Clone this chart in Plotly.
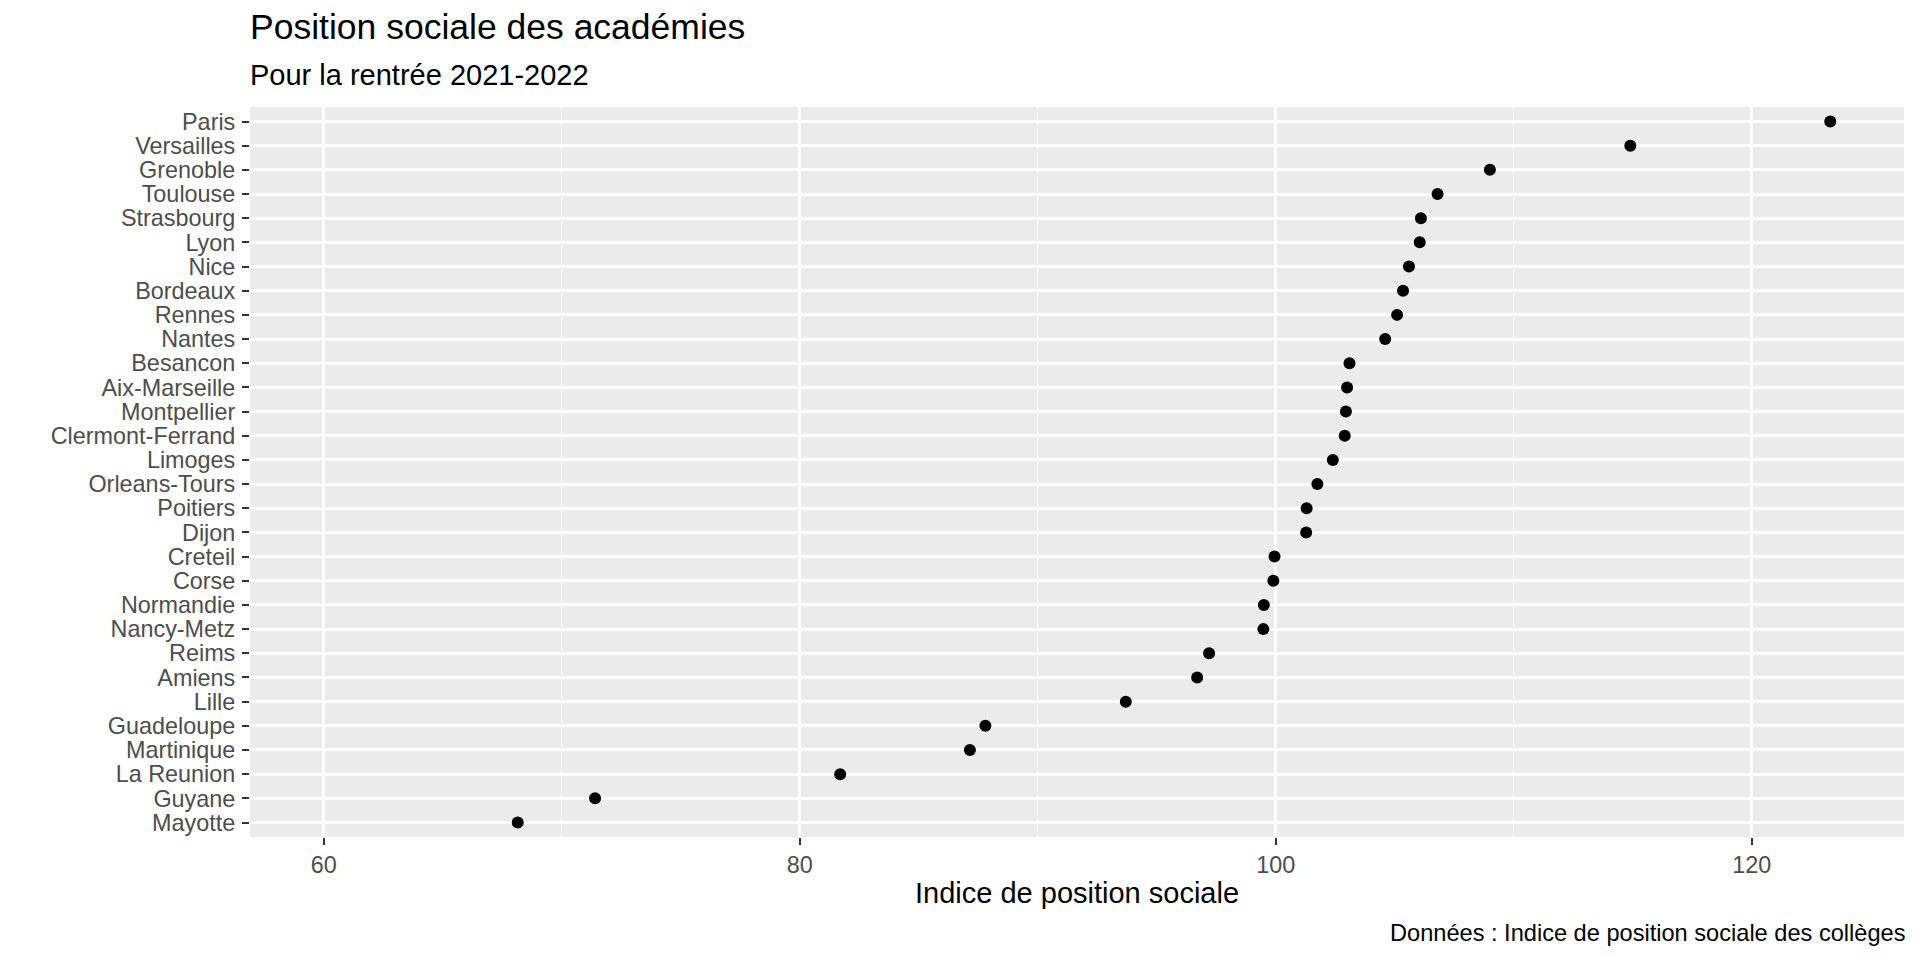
import plotly.graph_objects as go

academies = ["Paris", "Versailles", "Grenoble", "Toulouse", "Strasbourg", "Lyon", "Nice",
             "Bordeaux", "Rennes", "Nantes", "Besancon", "Aix-Marseille", "Montpellier",
             "Clermont-Ferrand", "Limoges", "Orleans-Tours", "Poitiers", "Dijon", "Creteil",
             "Corse", "Normandie", "Nancy-Metz", "Reims", "Amiens", "Lille", "Guadeloupe",
             "Martinique", "La Reunion", "Guyane", "Mayotte"]
ips = [123.3, 114.9, 109.0, 106.8, 106.1, 106.05, 105.6, 105.35, 105.1, 104.6, 103.1,
       103.0, 102.95, 102.9, 102.4, 101.75, 101.3, 101.28, 99.95, 99.9, 99.5, 99.48,
       97.2, 96.7, 93.7, 87.8, 87.15, 81.7, 71.4, 68.15]
x_ticks = [60, 80, 100, 120]

title = "Position sociale des académies"
subtitle = "Pour la rentrée 2021-2022"
x_title = "Indice de position sociale"
caption = "Données : Indice de position sociale des collèges"

W, H = 1920, 960
L, R, T, B = 250, 16, 107, 123
PW, PH = W - L - R, H - T - B
FONT = "Liberation Sans, Arial, sans-serif"


def ypap(px):
    return (H - B - px) / PH


def xpap(px):
    return (px - L) / PW


fig = go.Figure()
fig.add_trace(go.Scatter(
    x=ips, y=academies, mode="markers",
    marker=dict(color="black", size=12, line=dict(width=0)),
    showlegend=False, hoverinfo="x+y"))

order = list(reversed(academies))

fig.update_layout(
    width=W, height=H,
    margin=dict(l=L, r=R, t=T, b=B, pad=0, autoexpand=False),
    paper_bgcolor="white", plot_bgcolor="#EBEBEB",
    font=dict(family=FONT, color="black"),
    xaxis=dict(
        range=[56.9, 126.4], tickvals=x_ticks, ticktext=[str(v) for v in x_ticks],
        showgrid=True, gridcolor="white", gridwidth=2.7,
        minor=dict(dtick=10, tick0=0, showgrid=True, gridcolor="white", gridwidth=1.4),
        ticks="outside", ticklen=7, tickwidth=2, tickcolor="#333333",
        tickfont=dict(size=23.4, color="#4D4D4D", family=FONT),
        zeroline=False, showline=False, fixedrange=True, automargin=False,
    ),
    yaxis=dict(
        type="category", categoryorder="array", categoryarray=order,
        tickmode="array", tickvals=order, ticktext=order,
        range=[-0.6, len(order) - 0.4],
        showgrid=True, gridcolor="white", gridwidth=2.7,
        ticks="outside", ticklen=7, tickwidth=2, tickcolor="#333333",
        tickfont=dict(size=23.4, color="#4D4D4D", family=FONT),
        ticklabelstandoff=2,
        zeroline=False, showline=False, fixedrange=True, automargin=False,
    ),
    annotations=[
        dict(text=title, xref="paper", yref="paper", x=xpap(250), y=ypap(27),
             xanchor="left", yanchor="middle", showarrow=False, xshift=-2,
             font=dict(size=35.5, color="black", family=FONT)),
        dict(text=subtitle, xref="paper", yref="paper", x=xpap(250), y=ypap(75),
             xanchor="left", yanchor="middle", showarrow=False, xshift=-2,
             font=dict(size=29, color="black", family=FONT)),
        dict(text=x_title, xref="paper", yref="paper", x=0.5, y=ypap(893),
             xanchor="center", yanchor="middle", showarrow=False,
             font=dict(size=29, color="black", family=FONT)),
        dict(text=caption, xref="paper", yref="paper", x=1.0, y=ypap(933),
             xanchor="right", yanchor="middle", showarrow=False, xshift=3,
             font=dict(size=23.6, color="black", family=FONT)),
    ],
)

fig.write_html("out.html", config={"displayModeBar": False},
               post_script="document.body.style.margin='0';document.body.style.overflow='hidden';")
